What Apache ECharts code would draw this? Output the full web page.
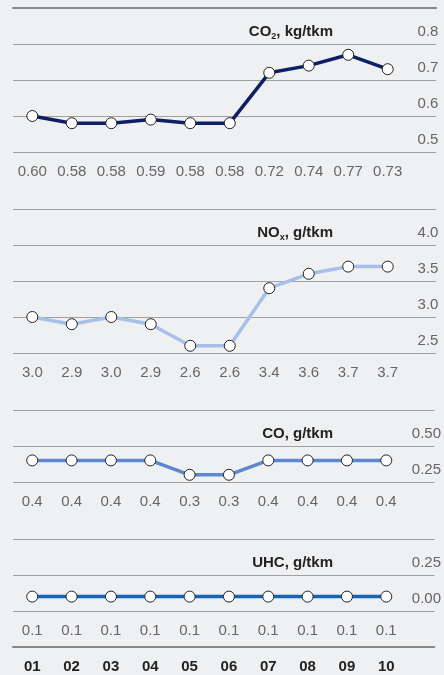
<!DOCTYPE html>
<html>
<head>
<meta charset="utf-8">
<script src="https://cdn.jsdelivr.net/npm/echarts@6/dist/echarts.min.js"></script>
<style>
  html, body { margin: 0; padding: 0; background: #eff0f2; }
  #chart { width: 444px; height: 675px; }
</style>
</head>
<body>
<div id="chart"></div>
<script>
// data
const categories = ['01', '02', '03', '04', '05', '06', '07', '08', '09', '10'];
const co2 = [0.60, 0.58, 0.58, 0.59, 0.58, 0.58, 0.72, 0.74, 0.77, 0.73];
const nox = [3.0, 2.9, 3.0, 2.9, 2.6, 2.6, 3.4, 3.6, 3.7, 3.7];
const co = [0.4, 0.4, 0.4, 0.4, 0.3, 0.3, 0.4, 0.4, 0.4, 0.4];
const uhc = [0.1, 0.1, 0.1, 0.1, 0.1, 0.1, 0.1, 0.1, 0.1, 0.1];
const co2Ticks = [0.5, 0.6, 0.7, 0.8];
const noxTicks = [2.5, 3.0, 3.5, 4.0];
const coTicks = [0.25, 0.5];
const uhcTicks = [0, 0.25];

const FONT = 'Liberation Sans, Arial, sans-serif';
const xPos = categories.map((c, i) => i + 1);

const panels = [
  {name: 'CO', sub: '2', unit: ', kg/tkm', data: co2, ticks: co2Ticks, dec: 2, tickDec: 1,
   top: 8, height: 144, min: 0.5, max: 0.9, interval: 0.1, color: '#0e1f66'},
  {name: 'NO', sub: 'x', unit: ', g/tkm', data: nox, ticks: noxTicks, dec: 1, tickDec: 1,
   top: 209, height: 144, min: 2.5, max: 4.5, interval: 0.5, color: '#a8bfe8'},
  {name: 'CO', sub: '', unit: ', g/tkm', data: co, ticks: coTicks, dec: 1, tickDec: 2,
   top: 410, height: 72, min: 0.25, max: 0.75, interval: 0.25, color: '#5d87cf'},
  {name: 'UHC', sub: '', unit: ', g/tkm', data: uhc, ticks: uhcTicks, dec: 1, tickDec: 2,
   top: 539, height: 72, min: 0, max: 0.5, interval: 0.25, color: '#1565b6'}
];

const xMin = 0.511, xMax = 11.223;

const grid = [], xAxis = [], yAxis = [], series = [], title = [];

panels.forEach((p, i) => {
  grid.push({left: 13, right: 8, top: p.top, height: p.height});
  xAxis.push({
    type: 'value', gridIndex: i, min: xMin, max: xMax,
    axisLine: {show: false}, axisTick: {show: false}, splitLine: {show: false},
    axisLabel: {
      customValues: xPos, margin: 12, fontFamily: FONT, fontSize: 15, color: '#666',
      lineHeight: 16, formatter: v => p.data[Math.round(v) - 1].toFixed(p.dec)
    }
  });
  yAxis.push({
    type: 'value', gridIndex: i, position: 'right', min: p.min, max: p.max, interval: p.interval,
    axisLine: {show: false}, axisTick: {show: false},
    splitLine: {lineStyle: {color: '#a0a0a0', width: 1}},
    axisLabel: {
      customValues: p.ticks, inside: true, margin: 8, align: 'center', verticalAlign: 'bottom',
      padding: [0, 0, 4, 0], lineHeight: 16,
      fontFamily: FONT, fontSize: 15, color: '#666',
      formatter: v => v.toFixed(p.tickDec)
    }
  });
  series.push({
    type: 'line', xAxisIndex: i, yAxisIndex: i,
    data: p.data.map((v, k) => [xPos[k], v]),
    symbol: 'circle', symbolSize: 11, showAllSymbol: true,
    lineStyle: {color: p.color, width: 3.5},
    itemStyle: {color: '#fff', borderColor: '#222', borderWidth: 1},
    emphasis: {disabled: true},
    z: 3
  });
  const text = p.sub ? `{m|${p.name}}{s|${p.sub}}{m|${p.unit}}` : `{m|${p.name}${p.unit}}`;
  title.push({
    text: text, right: 111, top: p.top + 15, padding: 0,
    textStyle: {
      rich: {
        m: {fontFamily: FONT, fontSize: 15, fontWeight: 'bold', color: '#222', lineHeight: 18},
        s: {fontFamily: FONT, fontSize: 9, fontWeight: 'bold', color: '#222', verticalAlign: 'bottom', lineHeight: 18}
      }
    }
  });
});

// thick top rule above the first panel
xAxis.push({
  type: 'value', gridIndex: 0, position: 'top', min: xMin, max: xMax,
  axisLine: {lineStyle: {color: '#888', width: 2}},
  axisTick: {show: false}, axisLabel: {show: false}, splitLine: {show: false}
});
// category row with thick rule under the last panel
xAxis.push({
  type: 'value', gridIndex: 3, position: 'bottom', offset: 36, min: xMin, max: xMax,
  axisLine: {lineStyle: {color: '#888', width: 2}},
  axisTick: {show: false}, splitLine: {show: false},
  axisLabel: {
    customValues: xPos, margin: 12, fontFamily: FONT, fontSize: 15, fontWeight: 'bold',
    color: '#222', lineHeight: 16, formatter: v => categories[Math.round(v) - 1]
  }
});

const myChart = echarts.init(document.getElementById('chart'));
myChart.setOption({
  backgroundColor: '#eff0f2',
  animation: false,
  title: title,
  grid: grid,
  xAxis: xAxis,
  yAxis: yAxis,
  series: series
});
</script>
</body>
</html>
